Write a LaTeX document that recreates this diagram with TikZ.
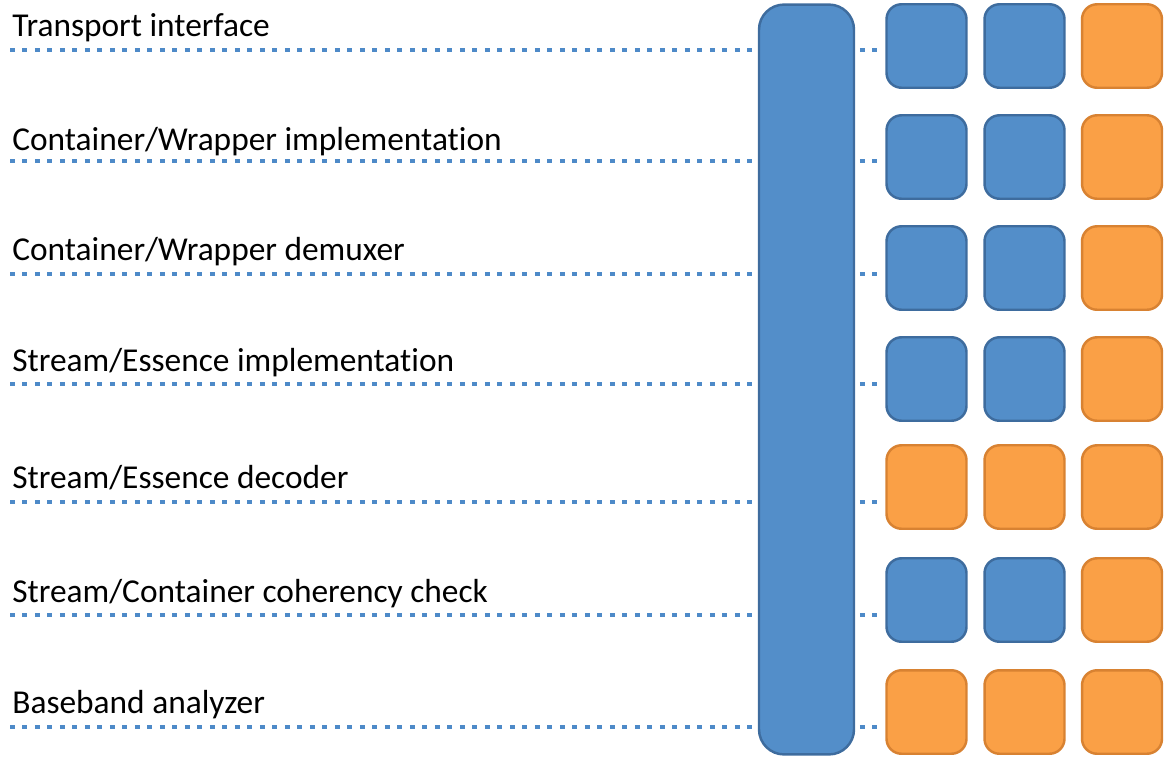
\documentclass[tikz,border=0pt]{standalone}
\usepackage{fontspec}
\setmainfont{Carlito}[Ligatures=NoCommon]
\definecolor{boxblue}{RGB}{83,142,201}
\definecolor{boxblueline}{RGB}{62,108,158}
\definecolor{boxorange}{RGB}{250,160,70}
\definecolor{boxorangeline}{RGB}{216,130,50}
\definecolor{dotblue}{RGB}{78,138,200}
\begin{document}
\begin{tikzpicture}[x=0.02cm,y=-0.02cm,font=\fontsize{19}{21}\selectfont,
	sqb/.style={draw=boxblueline,fill=boxblue,line width=1.4pt,rounded corners=0.3cm,minimum width=1.6cm,minimum height=1.67cm,inner sep=0pt},
	sqo/.style={sqb,draw=boxorangeline,fill=boxorange},
	dotline/.style={dotblue,line width=0.08cm,dash pattern=on 0.1cm off 0.15cm}]
	\useasboundingbox (0,0) rectangle (1166,758);
	\foreach \r/\cy/\a/\b/\c in {1/46/sqb/sqb/sqo,2/157/sqb/sqb/sqo,3/268/sqb/sqb/sqo,4/379/sqb/sqb/sqo,5/487/sqo/sqo/sqo,6/600/sqb/sqb/sqo,7/712/sqo/sqo/sqo}{
		\node[\a] (sq\r1) at (926.5,\cy) {};
		\node[\b] (sq\r2) at (1024.5,\cy) {};
		\node[\c] (sq\r3) at (1122,\cy) {};
	}
	\foreach \r/\ly/\dy/\txt in {1/36/50/{Transport interface},2/150/161/{Container/Wrapper implementation},3/260/274/{Container/Wrapper demuxer},4/371/384/{Stream/Essence implementation},5/488/502/{Stream/Essence decoder},6/602/615/{Stream/Container coherency check},7/713/727/{Baseband analyzer}}{
		\node[anchor=base west,inner sep=0pt] (lbl\r) at (12,\ly) {\txt};
		\coordinate (d\r) at (10,\dy);
		\draw[dotline] (d\r)--([xshift=-2pt]d\r -| sq\r1.west);
	}
	\node[draw=boxblueline,fill=boxblue,line width=1.4pt,rounded corners=0.5cm,minimum width=1.9cm,minimum height=15.0cm] (bus) at (806.5,379.5) {};
	%	\path (current bounding box.south) node[below=2mm] {};
\end{tikzpicture}
\end{document}
